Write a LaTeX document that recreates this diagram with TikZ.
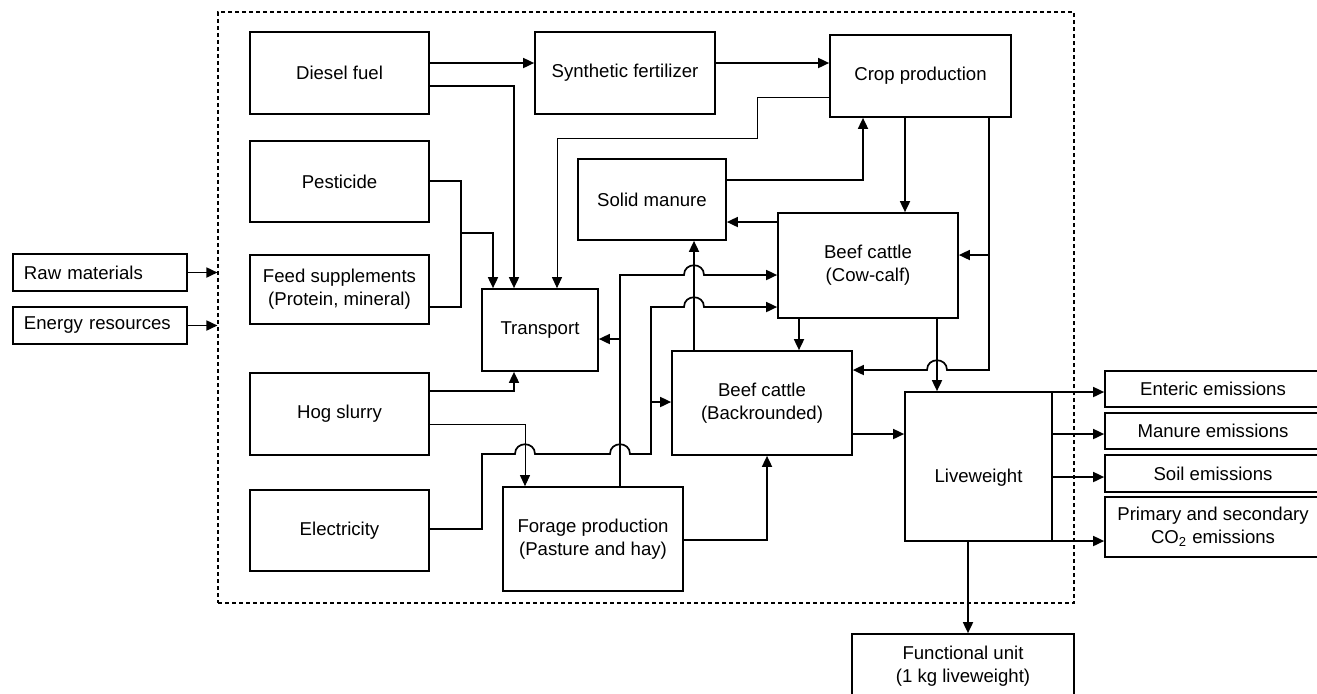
\documentclass[tikz,border=0pt]{standalone}
\usepackage{fontspec}
\setmainfont{Liberation Sans}
\usetikzlibrary{arrows.meta}

\begin{document}
\begin{tikzpicture}[x=0.5pt, y=-0.5pt, line width=0.85pt,
  >={Triangle[length=5.5pt,width=5pt]},
  sz/.style 2 args={minimum width=#1*0.5pt, minimum height=#2*0.5pt},
  box/.style={draw, inner sep=0pt, align=center, font=\fontsize{9.3pt}{11.5pt}\selectfont},
  sysbox/.style={draw, line width=0.55pt, dash pattern=on 2.2pt off 1.3pt, inner sep=0pt},
  thinline/.style={line width=0.5pt}]
\useasboundingbox (0,0) rectangle (1317,693);
\clip (0,0) rectangle (1317,693);

% system boundary
\node[sysbox, sz={856}{591}] (sys) at (646,307.5) {};

% inputs
\node[box, sz={174}{37}, text width=76pt, align=left] (raw) at (100,272.5) {Raw materials};
\node[box, sz={174}{37}, text width=76pt, align=left] (energy) at (100,325.5) {Energy resources};

% boxes inside
\node[box, sz={179}{82}] (diesel) at (339.5,73) {Diesel fuel};
\node[box, sz={180}{82}] (synth) at (625,73) {Synthetic fertilizer};
\node[box, sz={181}{82}] (crop) at (920.5,76) {Crop production};
\node[box, sz={179}{81}] (pest) at (339.5,181.5) {Pesticide};
\node[box, sz={179}{69}] (feed) at (339.5,289.5) {Feed supplements\\(Protein, mineral)};
\node[box, sz={148}{81}] (solid) at (652,199.5) {Solid manure};
\node[box, sz={116}{82}] (transport) at (540,330) {Transport};
\node[box, sz={180}{105}] (cow) at (868,265.5) {Beef cattle\\(Cow-calf)};
\node[box, sz={179}{82}] (hog) at (339.5,414) {Hog slurry};
\node[box, sz={180}{104}] (back) at (762,403) {Beef cattle\\(Backrounded)};
\node[box, sz={179}{81}] (elec) at (339.5,530.5) {Electricity};
\node[box, sz={180}{104}] (forage) at (593,539) {Forage production\\(Pasture and hay)};
\node[box, sz={147}{149}, text height=17.7pt, text depth=1.9pt] (live) at (978.5,466.5) {Liveweight};

% outputs
\node[box, sz={216}{36}] (enteric) at (1213,389) {Enteric emissions};
\node[box, sz={216}{36}] (manure) at (1213,431) {Manure emissions};
\node[box, sz={216}{37}] (soil) at (1213,473.5) {Soil emissions};
\node[box, sz={216}{60}] (co2) at (1213,527) {Primary and secondary\\CO\textsubscript{2} emissions};
\node[box, sz={222}{64}] (func) at (963,666) {Functional unit\\(1 kg liveweight)};

% connectors
\draw[->] (raw.east) -- (raw.east -| sys.west);
\draw[->] (energy.east) -- (energy.east -| sys.west);
\draw[->] (diesel.east |- 0,63) -- (synth.west |- 0,63);
\draw[->] (diesel.east |- 0,86) -| (transport.north -| 514,0);
\draw[->] (synth.east |- 0,63) -- (crop.west |- 0,63);
\draw[->] (pest.east |- 0,181) -| (461,233) -| (transport.north -| 493,0);
\draw (feed.east |- 0,307) -| (461,233);
\draw[->, thinline] (crop.west |- 0,97) -| (757,138) -| (transport.north -| 557,0);
\draw[->] (solid.east |- 0,180) -| (crop.south -| 863,0);
\draw[->] (crop.south -| 905,0) -- (cow.north -| 905,0);
\draw[->] (cow.west |- 0,222) -- (solid.east |- 0,222);
\draw[->] (crop.south -| 989,0) |- (cow.east |- 0,255);
\draw[->] (989,255) -- (989,370) -- (947,370) .. controls +(0,-13) and +(0,-13) .. (927,370) -- (back.east |- 0,370);
\draw[->] (cow.south -| 799,0) -- (back.north -| 799,0);
\draw[->] (cow.south -| 937,0) -- (live.north -| 937,0);
\draw[->] (back.north -| 694,0) -- (solid.south -| 694,0);
\draw[->] (forage.north -| 620,0) -- (620,275) -- (684,275) .. controls +(0,-13) and +(0,-13) .. (704,275) -- (cow.west |- 0,275);
\draw[->] (620,339) -- (transport.east |- 0,339);
\draw[->] (elec.east |- 0,529) -| (482,454) -- (515,454) .. controls +(0,-13) and +(0,-13) .. (535,454)
  -- (610,454) .. controls +(0,-13) and +(0,-13) .. (630,454) -- (651,454) -- (651,307)
  -- (684,307) .. controls +(0,-13) and +(0,-13) .. (704,307) -- (cow.west |- 0,307);
\draw[->] (651,402) -- (back.west |- 0,402);
\draw[->] (hog.east |- 0,391) -| (transport.south -| 514,0);
\draw[->, thinline] (hog.east |- 0,424) -| (forage.north -| 525,0);
\draw[->] (forage.east |- 0,540) -| (back.south -| 767,0);
\draw[->] (back.east |- 0,434) -- (live.west |- 0,434);
\foreach \y/\t in {392/enteric, 434/manure, 477/soil, 541/co2}
  \draw[->] (live.east |- 0,\y) -- (\t.west |- 0,\y);
\draw[->] (live.south -| 968,0) -- (func.north -| 968,0);
\end{tikzpicture}
\end{document}
